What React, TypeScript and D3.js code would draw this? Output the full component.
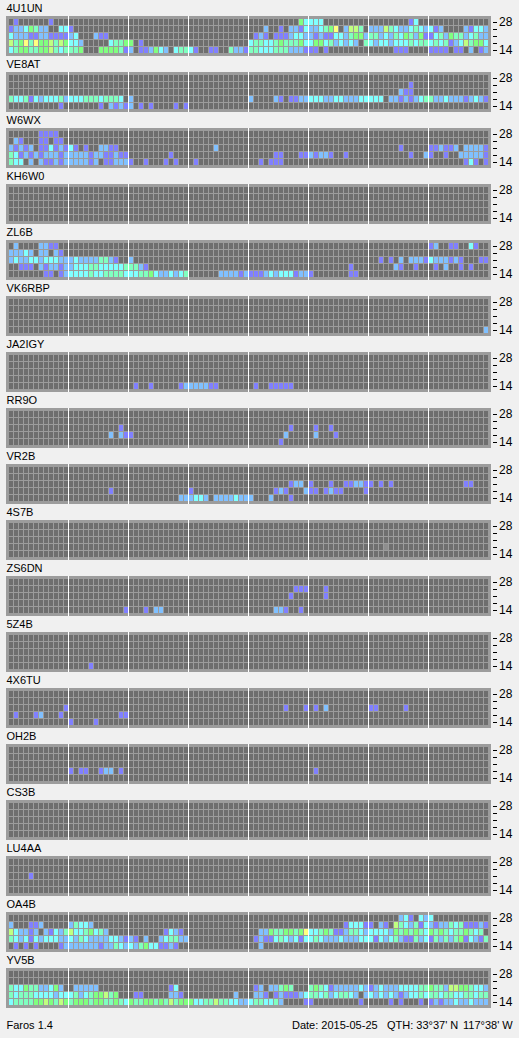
import React, { useLayoutEffect } from "react";
import * as d3 from "d3";

// Rows run top (28 MHz) to bottom (14 MHz); eight groups of twelve slots; "-" is an empty group.
const stations = ["4U1UN","VE8AT","W6WX","KH6W0","ZL6B","VK6RBP","JA2IGY","RR9O","VR2B","4S7B","ZS6DN","5Z4B","4X6TU","OH2B","CS3B","LU4AA","OA4B","YV5B"];

const rows4U1UN = [
  "010000001000 - - - 000000000053 333000000000 000000001300 -",
  "122354220033 100000000000 - - 000200102213 223457026640 222643223432 312000021332",
  "322211221111 230002110000 - - 012101112332 212113324552 442324354251 134254423422",
  "645747556465 332000003445 501000000000 - 344334544453 355342323204 323323334344 343412364553",
  "345544556434 445000555541 201125320344 310011004221 443334442221 110100000000 000001110000 111101102012",
];
const rowsVE8AT = [
  "",
  "- - - - - - 000000001000 -",
  "- - - - - - 000000211000 -",
  "433413233342 333444344430 200000000000 - 200002101122 333223322233 333022121234 422322212321",
  "000000000010 000000102121 201010000101",
];
const rowsW6WX = [
  "000000111100",
  "021000110110",
  "212120113121 310100221100 - 000002000000 - - 000000100000 112112022221",
  "431212122212 222212211211 000000001000 - 000001100011 212210010000 000000001002 100100222221",
  "433020211212 222212011222 100100010100 010000000000 001011100000 - - 000000013101",
];
const rowsKH6W0 = ["", "", "", "", ""];
const rowsZL6B = [
  "020000221100 - - - - - - 120011003100",
  "222320220210",
  "232233233322 232222442100 200000000000 - - - 001010202221 322212100011",
  "001110212212 233344333334 442100000000 - - 000000001000 000002100100 010200101000",
  "000000011012 333343344443 334453223234 000000222212 111232333122 100000001100",
];
const rowsVK6RBP = ["", "", "", "", "- - - - - - - 000000000002"];
const rowsJA2IGY = ["", "", "", "", "- - 010010000012 222211000000 010011111000"];
const rowsRR9O = [
  "",
  "",
  "- 000000000010 - - 000000001000 010010000000",
  "- 000000002021 100000000000 - 000000020000 020001000000",
  "- - - - 000000100000",
];
const rowsVR2B = [
  "",
  "",
  "- - - - 000000001220 100010011221 101010000000 000000011000",
  "- 000000001000 - 100000000000 000001210002 110121100001",
  "- - 000000000022 233202222322 200020001000",
];
const rows4S7B = ["", "", "", "- - - - - - 000800000000", ""];
const rowsZS6DN = [
  "",
  "- - - - 000000000111 000100000000",
  "- - - - 000000001000 000100000000",
  "",
  "- 000000000001 000102200000 - 000002210010",
];
const rows5Z4B = ["", "", "", "", "- 000010000000"];
const rows4X6TU = [
  "",
  "",
  "000000000001 - - - 000000010001 010200000000 110000010000",
  "010001200010 000000000011",
  "- 100001000000",
];
const rowsOH2B = ["", "", "", "- 101100122010 - - - 010000000000", ""];
const rowsCS3B = ["", "", "", "", ""];
const rowsLU4AA = ["", "", "000010000000", "", ""];
const rowsOA4B = [
  "- - - - - - 000000231032 300000000000",
  "200011200000 243320000000 - - - 000000013331 102106432413 212243411121",
  "632212021324 633453420000 000000013210 - 002254455457 334541124432 333325454543 545434454340",
  "432313233322 324322223321 210200234422 - 012113432313 343222322233 313234211423 142424513214",
  "010101000012 222222122432 324533112100 - 002000000000",
];
const rowsYV5B = [
  "",
  "",
  "433544223520 022222000000 000000001300 - 012022454000 454312222232 123222333344 544266554332",
  "434443333233 342345564500 011000002210 000000000200 022101211123 443423443202 323232123343 443443344344",
  "344445565465 455545544543 544554546455 533446443322 344334200001 100000000010 000010100010 121223223222",
];
const stationRows = [rows4U1UN,rowsVE8AT,rowsW6WX,rowsKH6W0,rowsZL6B,rowsVK6RBP,rowsJA2IGY,rowsRR9O,rowsVR2B,rows4S7B,rowsZS6DN,rows5Z4B,rows4X6TU,rowsOH2B,rowsCS3B,rowsLU4AA,rowsOA4B,rowsYV5B];

const levels = [0,1,2,3,4,5,6,7,8];
const levelColors = ["#6e6e6e","#8080ff","#80c0ff","#80ffff","#80ffc0","#80ff80","#c0ff80","#ffff80","#8e8e8e"];
const axisLabels = ["28","","","","14"];
const blockStarts = [12,24,36,48,60,72,84];

const FONT = "'Liberation Sans', Arial, sans-serif";
const color = d3.scaleOrdinal<number,string>().domain(levels).range(levelColors);
const x = d3.scaleLinear().domain([0,96]).range([9,489]);
const panelY = d3.scaleLinear().domain([0,1]).range([16,72]);
const rowY = d3.scaleLinear().domain([0,1]).range([3,10]);

function parseRow(r: string): number[] {
  const s = r.split(" ").filter(Boolean).map((g) => (g === "-" ? "000000000000" : g)).join("").padEnd(96,"0");
  return Array.from(s).map(Number);
}

export default function App() {
  useLayoutEffect(() => {
    document.body.style.margin = "0";
    document.body.style.background = "#f0f0f0";
  }, []);
  return (
    <svg width={519} height={1038} style={{display:"block"}} fontFamily={FONT} fontSize={11} fill="#000">
      <rect width={519} height={1038} fill="#f0f0f0" />
      {stations.map((name,i) => {
        const top = panelY(i);
        return (
          <g key={name} shapeRendering="crispEdges">
            <text x={6.5} y={top-4} shapeRendering="auto">{name}</text>
            <rect x={6} y={top} width={485} height={40} fill="#9c9c9c" />
            {stationRows[i].map((r,ri) => parseRow(r).map((v,c) => (
              <rect key={ri+"-"+c} x={x(c)} y={top+rowY(ri)} width={4} height={6} fill={color(v)} />
            )))}
            {blockStarts.map((b) => (
              <rect key={b} x={x(b)-1} y={top} width={1} height={40} fill="#ffffff" />
            ))}
            {axisLabels.map((t,ri) => (
              <g key={ri}>
                <rect x={493} y={top+rowY(ri)+3} width={4} height={1} fill="#000" />
                {t && <text x={499} y={top+rowY(ri)+7} shapeRendering="auto" fontSize={12}>{t}</text>}
              </g>
            ))}
          </g>
        );
      })}
      <text x={6.5} y={1029}>Faros 1.4</text>
      <text x={292} y={1029}>Date: 2015-05-25</text>
      <text x={387} y={1029}>QTH: 33°37' N</text>
      <text x={463} y={1029}>117°38' W</text>
    </svg>
  );
}
